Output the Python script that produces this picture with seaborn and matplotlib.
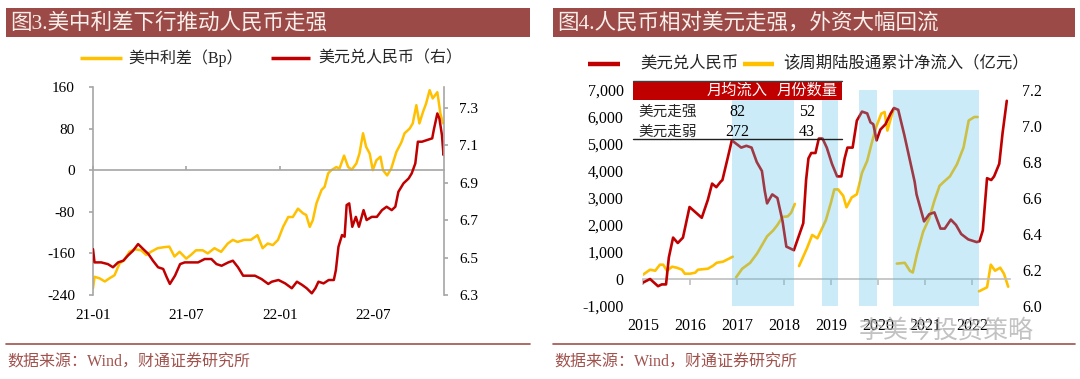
import pandas as pd
import matplotlib
matplotlib.use('Agg')
import matplotlib.pyplot as plt
import seaborn as sns
from matplotlib.patches import Rectangle
from matplotlib.lines import Line2D
import matplotlib.dates as mdates

sns.set_theme(style='white')
plt.rcParams['font.family'] = ['Liberation Serif', 'Noto Sans CJK SC', 'DejaVu Sans']
plt.rcParams['axes.unicode_minus'] = False

# ---------- left chart: US-China spread vs USD/CNY (daily) ----------
spread_dates = ['2021-01-01', '2021-01-04', '2021-01-14', '2021-01-24', '2021-02-02', '2021-02-12',
                '2021-02-22', '2021-03-03', '2021-03-13', '2021-03-23', '2021-04-05', '2021-04-15',
                '2021-04-24', '2021-05-07', '2021-05-20', '2021-05-30', '2021-06-09', '2021-06-19',
                '2021-07-02', '2021-07-11', '2021-07-21', '2021-08-03', '2021-08-13', '2021-08-26',
                '2021-09-08', '2021-09-21', '2021-10-01', '2021-10-10', '2021-10-23', '2021-11-05',
                '2021-11-18', '2021-11-28', '2021-12-08', '2021-12-18', '2021-12-28', '2022-01-07',
                '2022-01-17', '2022-01-26', '2022-02-05', '2022-02-15', '2022-02-21', '2022-02-28',
                '2022-03-06', '2022-03-13', '2022-03-23', '2022-03-29', '2022-04-05', '2022-04-11',
                '2022-04-21', '2022-04-27', '2022-05-06', '2022-05-14', '2022-05-21', '2022-05-30',
                '2022-06-05', '2022-06-12', '2022-06-18', '2022-06-25', '2022-07-01', '2022-07-08',
                '2022-07-16', '2022-07-21', '2022-07-29', '2022-08-06', '2022-08-16', '2022-08-26',
                '2022-09-01', '2022-09-11', '2022-09-17', '2022-09-24', '2022-09-30', '2022-10-07',
                '2022-10-13', '2022-10-20', '2022-10-26', '2022-11-04', '2022-11-10', '2022-11-15']
spread_bp = [-227, -205, -208, -214, -208, -202, -179, -173, -157, -152, -154, -163,
             -157, -150, -148, -147, -166, -157, -170, -163, -154, -154, -160, -150,
             -157, -141, -134, -138, -134, -134, -125, -150, -141, -144, -134, -109,
             -90, -90, -74, -83, -86, -109, -96, -64, -38, -32, -6, 0,
             6, 3, 28, 6, 1, 13, 32, 71, 45, 32, 0, 19,
             26, 0, -10, 3, 35, 54, 71, 80, 90, 125, 90, 112,
             128, 154, 138, 150, 109, 90]

cny_dates = ['2021-01-01', '2021-01-04', '2021-01-17', '2021-01-30', '2021-02-09', '2021-02-19',
             '2021-03-01', '2021-03-10', '2021-03-20', '2021-03-30', '2021-04-09', '2021-04-19',
             '2021-04-28', '2021-05-08', '2021-05-18', '2021-05-25', '2021-05-31', '2021-06-10',
             '2021-06-20', '2021-06-29', '2021-07-12', '2021-07-25', '2021-08-07', '2021-08-20',
             '2021-08-30', '2021-09-09', '2021-09-22', '2021-10-01', '2021-10-11', '2021-10-21',
             '2021-10-31', '2021-11-13', '2021-11-26', '2021-12-09', '2021-12-16', '2021-12-29',
             '2022-01-11', '2022-01-24', '2022-02-03', '2022-02-13', '2022-02-22', '2022-03-04',
             '2022-03-11', '2022-03-17', '2022-03-27', '2022-04-06', '2022-04-16', '2022-04-20',
             '2022-04-25', '2022-05-02', '2022-05-07', '2022-05-11', '2022-05-16', '2022-05-22',
             '2022-05-29', '2022-06-04', '2022-06-13', '2022-06-19', '2022-06-29', '2022-07-09',
             '2022-07-19', '2022-07-28', '2022-08-07', '2022-08-14', '2022-08-20', '2022-08-30',
             '2022-09-09', '2022-09-15', '2022-09-22', '2022-09-27', '2022-10-05', '2022-10-15',
             '2022-10-25', '2022-10-28', '2022-11-04', '2022-11-08', '2022-11-13', '2022-11-16',
             '2022-11-17']
cny_rate = [6.545, 6.474, 6.474, 6.465, 6.448, 6.474, 6.483, 6.510, 6.536, 6.572, 6.545, 6.519,
            6.483, 6.448, 6.439, 6.394, 6.359, 6.403, 6.465, 6.474, 6.474, 6.474, 6.492, 6.492,
            6.465, 6.456, 6.474, 6.483, 6.448, 6.403, 6.403, 6.403, 6.385, 6.359, 6.371, 6.380,
            6.362, 6.336, 6.371, 6.354, 6.336, 6.309, 6.336, 6.371, 6.362, 6.380, 6.380, 6.433,
            6.557, 6.620, 6.611, 6.780, 6.789, 6.664, 6.717, 6.664, 6.753, 6.700, 6.717, 6.717,
            6.753, 6.771, 6.753, 6.771, 6.851, 6.896, 6.922, 6.949, 7.002, 7.118, 7.118, 7.127,
            7.136, 7.180, 7.269, 7.242, 7.153, 7.047, 7.118]

left_ticks = ['2021-01-01', '2021-07-01', '2022-01-01', '2022-07-01']
left_tick_labels = ['21-01', '21-07', '22-01', '22-07']

# ---------- right chart: USD/CNY (monthly) and cumulative northbound flow per period ----------
fx_year = [2015.00, 2015.15, 2015.32, 2015.40, 2015.49, 2015.55, 2015.64, 2015.74, 2015.85, 2015.99,
           2016.25, 2016.38, 2016.47, 2016.56, 2016.65, 2016.69, 2016.80, 2016.89, 2017.09, 2017.20,
           2017.31, 2017.42, 2017.53, 2017.59, 2017.64, 2017.75, 2017.86, 2017.97, 2018.05, 2018.21,
           2018.41, 2018.47, 2018.52, 2018.58, 2018.67, 2018.74, 2018.82, 2018.91, 2019.02, 2019.13,
           2019.22, 2019.29, 2019.35, 2019.46, 2019.55, 2019.66, 2019.77, 2019.84, 2019.90, 2019.97,
           2020.05, 2020.16, 2020.27, 2020.34, 2020.43, 2020.56, 2020.67, 2020.78, 2020.82, 2020.98,
           2021.09, 2021.20, 2021.33, 2021.42, 2021.55, 2021.66, 2021.77, 2021.92, 2022.10, 2022.16,
           2022.23, 2022.32, 2022.41, 2022.47, 2022.58, 2022.65, 2022.74]
fx_rate = [6.13, 6.15, 6.11, 6.12, 6.12, 6.27, 6.38, 6.35, 6.38, 6.55,
           6.49, 6.59, 6.68, 6.66, 6.69, 6.70, 6.82, 6.92, 6.88, 6.89,
           6.88, 6.80, 6.75, 6.64, 6.57, 6.62, 6.60, 6.47, 6.33, 6.31,
           6.46, 6.70, 6.82, 6.85, 6.85, 6.93, 6.93, 6.88, 6.79, 6.72,
           6.72, 6.82, 6.88, 6.88, 7.03, 7.08, 7.07, 7.02, 7.01, 6.92,
           6.98, 7.01, 7.07, 7.10, 7.09, 6.95, 6.82, 6.69, 6.62, 6.47,
           6.51, 6.52, 6.43, 6.43, 6.48, 6.45, 6.40, 6.37, 6.355, 6.36,
           6.42, 6.71, 6.70, 6.72, 6.79, 6.96, 7.14]

flow_year_1 = [2015.00, 2015.15, 2015.26, 2015.36, 2015.43, 2015.51, 2015.62, 2015.72, 2015.83,
               2015.89, 2016.00, 2016.11, 2016.17, 2016.38, 2016.49, 2016.57, 2016.70, 2016.91]
flow_value_1 = [160, 344, 307, 530, 530, 307, 455, 418, 344, 196, 196, 233, 344, 381, 492, 603, 640, 825]
flow_year_2 = [2016.98, 2017.11, 2017.28, 2017.43, 2017.64, 2017.77, 2017.86, 2017.97, 2018.08, 2018.15, 2018.23]
flow_value_2 = [60, 380, 600, 950, 1580, 1800, 2000, 2300, 2320, 2450, 2780]
flow_year_3 = [2018.32, 2018.49, 2018.60, 2018.71, 2018.89, 2019.00, 2019.07, 2019.15, 2019.26, 2019.33,
               2019.44, 2019.55, 2019.66, 2019.77, 2019.88, 2019.96, 2020.07, 2020.14, 2020.20, 2020.29, 2020.33]
flow_value_3 = [480, 1145, 1630, 1507, 2174, 2837, 3319, 3319, 3080, 2656,
                3018, 3138, 3936, 4375, 5124, 5622, 6124, 6184, 5498, 6060, 6250]
flow_year_4 = [2020.40, 2020.57, 2020.68, 2020.74, 2020.83, 2020.96, 2021.09, 2021.20, 2021.31, 2021.40,
               2021.53, 2021.68, 2021.82, 2021.93, 2022.05, 2022.12]
flow_value_4 = [570, 600, 300, 240, 930, 1750, 2250, 2900, 3450, 3600,
                3800, 4250, 4870, 5870, 6000, 6000]
flow_year_5 = [2022.15, 2022.32, 2022.40, 2022.49, 2022.60, 2022.68, 2022.77]
flow_value_5 = [-456, -307, 530, 307, 418, 196, -285]

usd_weak_start = [2016.89, 2018.80, 2019.59, 2020.32]
usd_weak_end = [2018.21, 2019.14, 2019.97, 2022.15]

right_years = [2015, 2016, 2017, 2018, 2019, 2020, 2021, 2022]
table_rows = ['美元走强', '美元走弱']
table_cols = ['月均流入', '月份数量']
table_avg_flow = [82, 272]
table_months = [52, 43]

GOLD = '#FFC000'
RED = '#C00000'
GRAY = '#A6A6A6'
BAR = '#9C4A47'
SRC = '#A0524D'
W, H = 1080, 379


def fx(px):
    return px / W


def fy(py):
    return 1 - py / H


fig = plt.figure(figsize=(W / 100, H / 100), dpi=100)

# ===== left chart =====
ax1 = fig.add_axes([fx(93), fy(295), 351 / W, 208 / H])
d_spread = pd.DataFrame({'date': pd.to_datetime(spread_dates), 'bp': spread_bp})
d_cny = pd.DataFrame({'date': pd.to_datetime(cny_dates), 'rate': cny_rate})
sns.lineplot(data=d_spread, x='date', y='bp', ax=ax1, color=GOLD, linewidth=1.8, estimator=None)
ax1.set_xlim(pd.Timestamp('2021-01-01'), pd.Timestamp('2022-11-17'))
ax1.set_ylim(-240, 160)
ax1.set_yticks([-240, -160, -80, 0, 80, 160])
ax1.set_xlabel('')
ax1.set_ylabel('')
for s in ['top', 'right']:
    ax1.spines[s].set_visible(False)
ax1.spines['left'].set_color(GRAY)
ax1.spines['left'].set_linewidth(1.2)
ax1.spines['bottom'].set_position(('data', 0))
ax1.spines['bottom'].set_color(GRAY)
ax1.spines['bottom'].set_linewidth(1.2)
ax1.set_xticks(pd.to_datetime(left_ticks))
ax1.tick_params(axis='x', direction='in', length=3, color=GRAY, width=1.2, labelbottom=False)
ax1.tick_params(axis='y', direction='out', length=3, color=GRAY, width=1.2, pad=10,
                labelsize=11, labelcolor='black')
ax1.tick_params(left=True, bottom=True)

sec1 = ax1.secondary_xaxis('bottom')
sec1.set_xticks(mdates.date2num(pd.to_datetime(left_ticks)), labels=left_tick_labels)
sec1.tick_params(length=0, pad=10, labelsize=11, labelcolor='black')
sec1.spines['bottom'].set_visible(False)

ax2 = ax1.twinx()
sns.lineplot(data=d_cny, x='date', y='rate', ax=ax2, color=RED, linewidth=1.8, estimator=None)
ax2.set_ylim(6.3, 7.41)
ax2.set_yticks([6.3, 6.5, 6.7, 6.9, 7.1, 7.3])
ax2.set_yticklabels(['6.3', '6.5', '6.7', '6.9', '7.1', '7.3'])
ax2.set_ylabel('')
for s in ['top', 'left', 'bottom']:
    ax2.spines[s].set_visible(False)
ax2.spines['right'].set_color(GRAY)
ax2.spines['right'].set_linewidth(1.2)
ax2.tick_params(axis='y', direction='out', length=3, color=GRAY, width=1.2, pad=8,
                labelsize=11, labelcolor='black', right=True)

# ===== right chart =====
ax3 = fig.add_axes([fx(643), fy(306), (1009.6 - 643) / W, 216 / H])
for xs, ys in [(flow_year_1, flow_value_1), (flow_year_2, flow_value_2), (flow_year_3, flow_value_3),
               (flow_year_4, flow_value_4), (flow_year_5, flow_value_5)]:
    sns.lineplot(x=xs, y=ys, ax=ax3, color=GOLD, linewidth=1.9, estimator=None)
ax3.set_xlim(2015.0, 2022.8)
ax3.set_ylim(-1000, 7000)
ax3.set_yticks(range(-1000, 7001, 1000))
ax3.set_yticklabels([f'{v:,}' for v in range(-1000, 7001, 1000)])
for s in ['top', 'right', 'left']:
    ax3.spines[s].set_visible(False)
ax3.spines['bottom'].set_position(('data', 0))
ax3.spines['bottom'].set_color('#BFBFBF')
ax3.spines['bottom'].set_linewidth(1.2)
ax3.set_xticks(right_years)
ax3.tick_params(axis='x', direction='out', length=4, color='#BFBFBF', width=1.2, labelbottom=False, bottom=True)
ax3.tick_params(axis='y', length=0, pad=14, labelsize=11.5, labelcolor='black')

sec3 = ax3.secondary_xaxis('bottom')
sec3.set_xticks(right_years, labels=[str(y) for y in right_years])
sec3.tick_params(length=0, pad=9, labelsize=11.5, labelcolor='black')
sec3.spines['bottom'].set_visible(False)

ax4 = ax3.twinx()
sns.lineplot(x=fx_year, y=fx_rate, ax=ax4, color=RED, linewidth=1.9, estimator=None)
ax4.set_ylim(6.0, 7.2)
ax4.set_yticks([6.0, 6.2, 6.4, 6.6, 6.8, 7.0, 7.2])
ax4.set_yticklabels(['6.0', '6.2', '6.4', '6.6', '6.8', '7.0', '7.2'])
for s in ['top', 'right', 'left', 'bottom']:
    ax4.spines[s].set_visible(False)
ax4.tick_params(axis='y', length=0, pad=9, labelsize=11.5, labelcolor='black')
for a, b in zip(usd_weak_start, usd_weak_end):
    ax4.axvspan(a, b, color='#55C0E8', alpha=0.3, lw=0, zorder=5)

# ===== figure decorations =====
for x0, x1, title in [(6, 530, '图3.美中利差下行推动人民币走强'),
                      (553, 1075, '图4.人民币相对美元走强，外资大幅回流')]:
    fig.add_artist(Rectangle((fx(x0), fy(37)), (x1 - x0) / W, 29 / H, transform=fig.transFigure,
                             facecolor=BAR, edgecolor='none', zorder=2))
    fig.text(fx(x0 + 4), fy(23), title, color='#F8EEEA', fontsize=15.5, va='center', ha='left', zorder=3)
    fig.add_artist(Line2D([fx(x0), fx(x1)], [fy(344), fy(344)], transform=fig.transFigure,
                          color=SRC, linewidth=1.2))
    fig.text(fx(x0 + 1), fy(363), '数据来源：Wind，财通证券研究所', color=SRC, fontsize=11.5,
             va='center', ha='left')

# legends
for x0, x1, y, col, lw, tx, fs, label in [
        (80, 122, 58, GOLD, 2.5, 128, 11.5, '美中利差（Bp）'),
        (271, 310, 58, RED, 2.5, 318, 11.5, '美元兑人民币（右）'),
        (588, 620, 64, RED, 3.2, 640, 11.8, '美元兑人民币'),
        (743, 774, 64, GOLD, 3.2, 783, 11.8, '该周期陆股通累计净流入（亿元）')]:
    fig.add_artist(Line2D([fx(x0), fx(x1)], [fy(y), fy(y)], transform=fig.transFigure,
                          color=col, linewidth=lw, solid_capstyle='butt'))
    fig.text(fx(tx), fy(y), label, fontsize=fs, va='center', ha='left', color='#262626')

# inset table
fig.add_artist(Rectangle((fx(633), fy(100)), 209 / W, 19 / H, transform=fig.transFigure,
                         facecolor=RED, edgecolor='none', zorder=6))
fig.add_artist(Line2D([fx(633), fx(842)], [fy(81), fy(81)], transform=fig.transFigure,
                      color='#404040', linewidth=1, zorder=7))
fig.add_artist(Line2D([fx(633), fx(842)], [fy(139), fy(139)], transform=fig.transFigure,
                      color='#202020', linewidth=1, zorder=7))
col_x = [737, 807]
for cx, head in zip(col_x, table_cols):
    fig.text(fx(cx), fy(91), head, color='white', fontsize=11, ha='center', va='center', zorder=8)
for ry, name, v1, v2 in zip([112, 132], table_rows, table_avg_flow, table_months):
    fig.text(fx(638), fy(ry), name, fontsize=10.5, ha='left', va='center', color='#262626', zorder=8)
    fig.text(fx(col_x[0]), fy(ry), str(v1), fontsize=11.5, ha='center', va='center', color='black', zorder=8)
    fig.text(fx(col_x[1]), fy(ry), str(v2), fontsize=11.5, ha='center', va='center', color='black', zorder=8)

# watermark (sits over the year labels, as in the source image)
fig.text(fx(858), fy(331), '李美岑投资策略', fontsize=18, color='#A8A8A8', alpha=0.7,
         ha='left', va='center', family=['Noto Sans CJK SC'], zorder=9)

fig.savefig('out.png', dpi=100)
